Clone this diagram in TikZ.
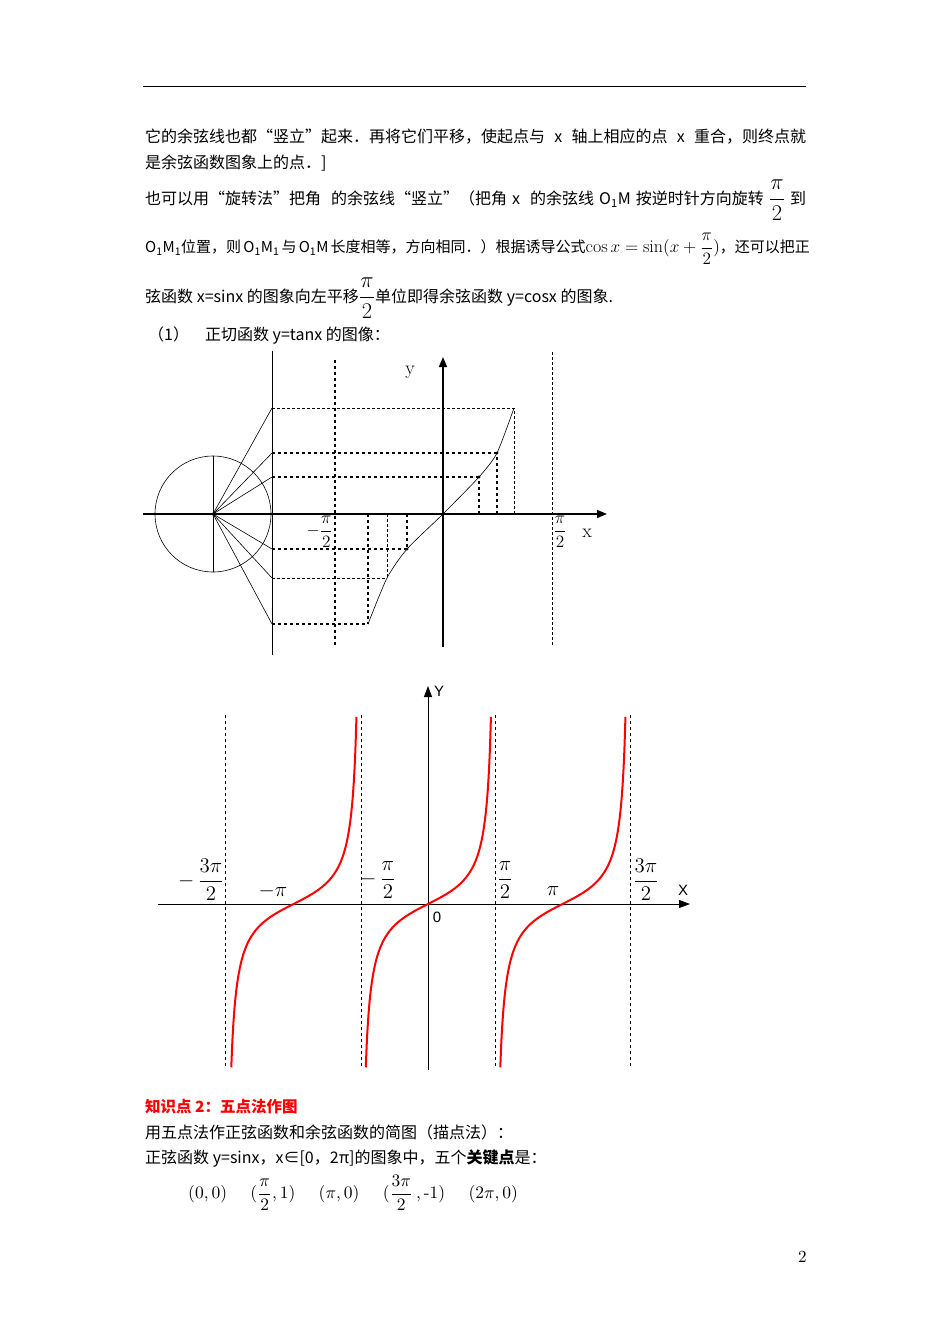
\documentclass[tikz,border=0pt]{standalone}
\usepackage{amsmath}
\usepackage{fontspec}
\newfontfamily\cjk{Noto Sans CJK SC}
\newfontfamily\lsans{Liberation Sans}
\usetikzlibrary{arrows.meta}
\newcommand{\mym}[2][1.45]{\scalebox{#1}{$#2$}}
\tikzset{
  txt/.style={anchor=west,inner sep=0pt,font=\cjk\fontsize{16}{18}\selectfont},
  thin dash/.style={densely dashed,line width=0.6pt},
  thick dash/.style={dashed,line width=1.6pt},
  ax/.style={line width=1.6pt,-{Triangle[length=10pt,width=8pt]}},
  thinline/.style={line width=0.6pt},
  lab/.style={inner sep=0pt,font=\lsans\fontsize{15}{16}\selectfont},
  asym/.style={dashed,line width=0.7pt},
  tanc/.style={red,line width=2pt}
}
\begin{document}
\begin{tikzpicture}[x=1pt,y=-1pt]
\useasboundingbox (0,0) rectangle (950,1344);
\fill[white] (0,0) rectangle (950,1344);
\coordinate (r1) at (143,86); \coordinate (r2) at (806,86);
\draw[line width=0.8pt] (r1) -- (r2);
% text
\node[txt] (t1) at (145,137) {\makebox[661pt][s]{它的余弦线也都“竖立”起来．再将它们平移，使起点与 x 轴上相应的点 x 重合，则终点就}};
\node[txt] (t2) at (145,163) {是余弦函数图象上的点．]};
\node[txt] (t3) at (145,200) {\makebox[661pt][s]{也可以用“旋转法”把角\ \ 的余弦线“竖立”（把角 x\ \ 的余弦线 O\textsubscript{1}M 按逆时针方向旋转 \mym[1.3]{\dfrac{\pi}{2}} 到}};
\node[txt,font=\cjk\fontsize{15}{18}\selectfont] (t4) at (145,249) {\makebox[661pt][s]{O\textsubscript{1}M\textsubscript{1}位置，则 O\textsubscript{1}M\textsubscript{1} 与 O\textsubscript{1}M 长度相等，方向相同．）根据诱导公式\mym[1.2]{\cos x=\sin(x+\dfrac{\pi}{2})}，还可以把正}};
\node[txt] (t5) at (145,298) {弦函数 x=sinx 的图象向左平移\mym[1.3]{\dfrac{\pi}{2}}单位即得余弦函数 y=cosx 的图象.};
\node[txt] (t6) at (148,336) {（1）\quad 正切函数 y=tanx 的图像：};
% ---- first diagram
\coordinate (O1) at (213,514);
\coordinate (xl) at (143,514); \coordinate (xr) at (607,514);
\draw[ax] (xl) -- (xr);
\coordinate (yb) at (443,647); \coordinate (yt) at (443,357);
\draw[ax] (yb) -- (yt);
\draw[thinline] (O1) circle (58);
\coordinate (ct) at (213,456); \coordinate (cb) at (213,572);
\draw[thinline] (ct) -- (cb);
\coordinate (v1) at (272,351); \coordinate (v2) at (272,655);
\draw[thinline] (v1) -- (v2);
\coordinate (d1) at (335,360); \coordinate (d2) at (335,647);
\draw[thick dash] (d1) -- (d2);
\coordinate (e1) at (552,352); \coordinate (e2) at (552,645);
\draw[thin dash] (e1) -- (e2);
% curve points
\coordinate (p1) at (368,624); \coordinate (p2) at (387,578); \coordinate (p3) at (407,549);
\coordinate (p0) at (443,514);
\coordinate (p4) at (479,477); \coordinate (p5) at (497,453); \coordinate (p6) at (514,408);
\coordinate (q1) at (368,514); \coordinate (q2) at (387,514); \coordinate (q3) at (407,514);
\coordinate (q4) at (479,514); \coordinate (q5) at (497,514); \coordinate (q6) at (514,514);
\coordinate (h1) at (272,624); \coordinate (h2) at (272,578); \coordinate (h3) at (272,549);
\coordinate (h4) at (272,477); \coordinate (h5) at (272,453); \coordinate (h6) at (272,408);
\foreach \i in {1,...,6} \draw[thinline] (O1) -- (h\i);
\draw[thick dash] (h1) -- (p1) (h3) -- (p3) (h4) -- (p4) (h5) -- (p5);
\draw[thin dash] (h2) -- (p2) (h6) -- (p6);
\draw[thick dash] (q1) -- (p1) (q3) -- (p3) (q4) -- (p4) (q5) -- (p5);
\draw[thin dash] (q2) -- (p2) (q6) -- (p6);
\draw[thinline] plot[smooth,tension=0.4] coordinates {(p1) (p2) (p3) (p0) (p4) (p5) (p6)};
\foreach \p in {O1,p0,p3,p4,p5} \fill (\p) circle (1.6);
\node[lab] (ly) at (410,372) {\mym[1.3]{\mathrm{y}}};
\node[lab] (lx) at (587,533) {\mym[1.3]{\mathrm{x}}};
\node[lab,anchor=east] (lm) at (333,532) {\mym[1.2]{-\dfrac{\pi}{2}}};
\node[lab] (lp) at (560,532) {\mym[1.2]{\dfrac{\pi}{2}}};
% ---- second diagram
\coordinate (X1) at (158,904); \coordinate (X2) at (690,904);
\draw[line width=0.8pt,-{Triangle[length=11pt,width=8pt]}] (X1) -- (X2);
\coordinate (Y1) at (428,1070); \coordinate (Y2) at (428,686);
\draw[line width=0.8pt,-{Triangle[length=11pt,width=8pt]}] (Y1) -- (Y2);
\foreach \xx/\nm in {225/a1,361/a2,495/a3,630/a4}{
  \coordinate (\nm t) at (\xx,715); \coordinate (\nm b) at (\xx,1068);
  \draw[asym] (\nm t) -- (\nm b);}
\foreach \c in {293.5,428,562.5}
  \draw[tanc] plot[domain=-1.437:1.455,samples=120,smooth] ({\c+43.3*\x},{904-22*tan(\x r)});
\node[lab] (L1) at (201,880) {\mym{-\,\dfrac{3\pi}{2}}};
\node[lab] (L2) at (273,891) {\mym{-\pi}};
\node[lab] (L3) at (378,880) {\mym{-\,\dfrac{\pi}{2}}};
\node[lab] (L4) at (505,880) {\mym{\dfrac{\pi}{2}}};
\node[lab] (L5) at (553,891) {\mym{\pi}};
\node[lab] (L6) at (646,880) {\mym{\dfrac{3\pi}{2}}};
\node[lab] (L0) at (437,917) {0};
\node[lab] (LX) at (683,890) {X};
\node[lab] (LY) at (439,691) {Y};
% bottom text
\node[txt,text=red,font=\cjk\bfseries\fontsize{15.5}{17}\selectfont] (b1) at (145,1107) {知识点 2：五点法作图};
\node[txt] (b2) at (145,1132) {用五点法作正弦函数和余弦函数的简图（描点法）：};
\node[txt] (b3) at (145,1158) {正弦函数 y=sinx，x∈[0，2π]的图象中，五个\textbf{关键点}是：};
\node[txt,font=\rmfamily] (b4) at (188,1193) {\scalebox{1.75}{(0,\,0)\quad\ ($\dfrac{\pi}{2}$,\,1)\quad\ ($\pi$,\,0)\quad\ ($\dfrac{3\pi}{2}$\,,\,-1)\quad\ (2$\pi$,\,0)}};
\node[txt,font=\rmfamily] (pg) at (798,1257) {\scalebox{1.7}{2}};
\end{tikzpicture}
\end{document}
